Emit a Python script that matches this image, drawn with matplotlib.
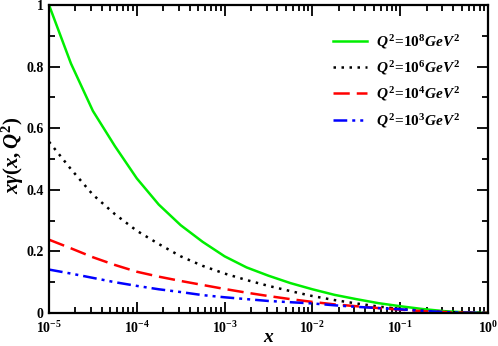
import numpy as np
import matplotlib
matplotlib.use("Agg")
import matplotlib.pyplot as plt
from matplotlib.ticker import FixedLocator, LogLocator, NullFormatter, FuncFormatter

plt.rcParams['font.family'] = 'Liberation Serif'
plt.rcParams['font.weight'] = 'bold'
plt.rcParams['mathtext.fontset'] = 'custom'
plt.rcParams['mathtext.rm'] = 'Liberation Serif:bold'
plt.rcParams['mathtext.bf'] = 'Liberation Serif:bold'
plt.rcParams['mathtext.it'] = 'Liberation Serif:bold:italic'

# data, x given as log10(x)
logx = [-5, -4.75, -4.5, -4.25, -4, -3.75, -3.5, -3.25, -3, -2.75, -2.5,
        -2.25, -2, -1.75, -1.5, -1.25, -1, -0.75, -0.5, -0.25, 0]
y_1e8 = [1.0, 0.81, 0.656, 0.542, 0.437, 0.352, 0.285, 0.231, 0.184, 0.148, 0.121,
         0.097, 0.077, 0.059, 0.045, 0.032, 0.022, 0.013, 0.006, 0.002, 0.0]
y_1e6 = [0.556, 0.467, 0.384, 0.321, 0.267, 0.224, 0.184, 0.153, 0.128, 0.107, 0.088,
         0.071, 0.055, 0.042, 0.031, 0.021, 0.013, 0.007, 0.003, 0.001, 0.0]
y_1e4 = [0.238, 0.210, 0.181, 0.156, 0.134, 0.118, 0.104, 0.091, 0.078, 0.066, 0.055,
         0.045, 0.036, 0.028, 0.022, 0.016, 0.011, 0.006, 0.003, 0.001, 0.0]
y_1e3 = [0.141, 0.128, 0.114, 0.100, 0.088, 0.077, 0.068, 0.058, 0.051, 0.045, 0.039,
         0.035, 0.031, 0.025, 0.020, 0.016, 0.012, 0.007, 0.003, 0.001, 0.0]
labels = [r'$Q^2\!=\!10^8GeV^2$', r'$Q^2\!=\!10^6GeV^2$', r'$Q^2\!=\!10^4GeV^2$', r'$Q^2\!=\!10^3GeV^2$']

fig = plt.figure(figsize=(4.98, 3.46), dpi=100)
ax = fig.add_axes([0.0984, 0.0954, 0.8816, 0.8901])

x = 10.0 ** np.array(logx)
lw = 1.8
ax.plot(x, y_1e8, color='#00ee00', lw=lw, label=labels[0])
ax.plot(x, y_1e6, color='black', lw=lw, linestyle=(0, (1, 2.2)), label=labels[1])
ax.plot(x, y_1e4, color='#ff0000', lw=lw, linestyle=(0, (6.5, 2.8)), label=labels[2])
ax.plot(x, y_1e3, color='#0000ff', lw=lw, linestyle=(0, (5.5, 2, 1.2, 2, 1.2, 2)), label=labels[3])

ax.set_xscale('log')
ax.set_xlim(1e-5, 1)
ax.set_ylim(0, 1)
ax.xaxis.set_major_locator(FixedLocator([1e-5, 1e-4, 1e-3, 1e-2, 1e-1, 1]))
ax.xaxis.set_minor_locator(LogLocator(base=10, subs=np.arange(2, 10), numticks=20))
ax.xaxis.set_minor_formatter(NullFormatter())
ax.xaxis.set_major_formatter(FuncFormatter(lambda v, p: r'$10^{%d}$' % int(round(np.log10(v)))))
ax.yaxis.set_major_locator(FixedLocator([0, 0.2, 0.4, 0.6, 0.8, 1.0]))
ax.yaxis.set_minor_locator(FixedLocator([0.1, 0.3, 0.5, 0.7, 0.9]))
ax.yaxis.set_major_formatter(FuncFormatter(lambda v, p: {0: '0', 1: '1'}.get(round(v, 3), '%.1f' % v)))

ax.tick_params(which='both', direction='in', top=True, right=True, width=1.3)
ax.tick_params(which='major', length=8, labelsize=10)
ax.tick_params(axis='x', which='major', pad=5)
ax.tick_params(axis='y', which='major', pad=4)
ax.tick_params(which='minor', length=4.5)
for lab in ax.get_yticklabels():
    lab.set_fontweight('bold')
for s in ax.spines.values():
    s.set_linewidth(1.6)

ax.set_xlabel(r'$x$', fontsize=14)
ax.xaxis.set_label_coords(0.5, -0.052)
ax.set_ylabel(r'$x\gamma(x,Q^2)$', fontsize=15)
ax.yaxis.set_label_coords(-0.052, 0.513)

leg = ax.legend(loc='upper left', frameon=False, fontsize=11, handlelength=2.2,
                labelspacing=0.55, bbox_to_anchor=(0.647, 0.91), handletextpad=0.6,
                borderpad=0, borderaxespad=0)

fig.savefig('out.png', dpi=100)
